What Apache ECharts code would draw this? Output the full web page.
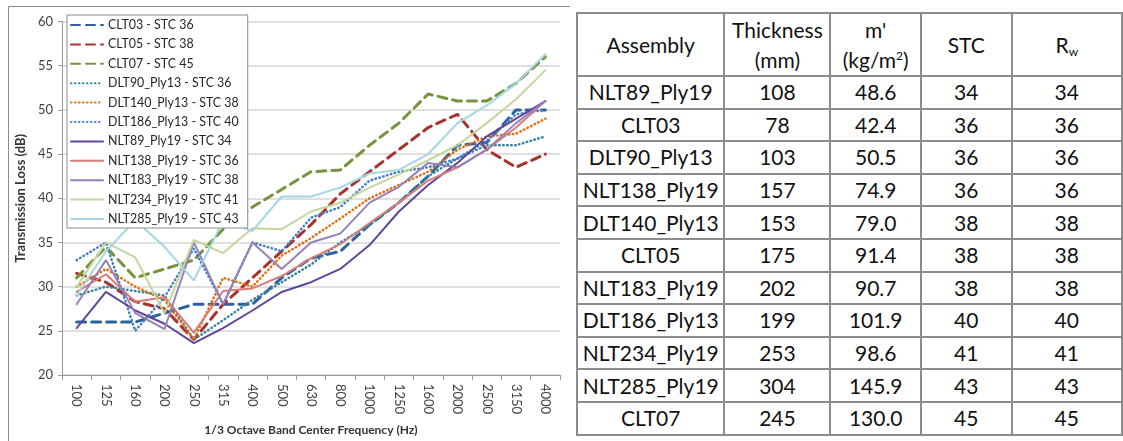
<!DOCTYPE html>
<html>
<head>
<meta charset="utf-8">
<script src="https://cdn.jsdelivr.net/npm/echarts@6/dist/echarts.min.js"></script>
<style>
  html, body { margin: 0; padding: 0; background: #fff; }
  #page { position: relative; width: 1123px; height: 441px; overflow: hidden; }
  #echart-line { position: absolute; left: 0; top: 0; width: 570px; height: 441px; }
  #tbl { position: absolute; left: 576px; top: 12px; border-collapse: collapse;
         font-family: Lato, "Open Sans", sans-serif; color: #111; }
  #tbl td { border: 2px solid #8c8c8c; text-align: center; padding: 0; font-size: 21px; height: 30.6px; line-height: 22px; }
  #tbl tr.head td { height: 61px; line-height: 30px; }
  #tbl sup { font-size: 12px; vertical-align: 8px; line-height: 0; }
  #tbl sub { font-size: 12px; vertical-align: -3px; line-height: 0; }
</style>
</head>
<body>
<div id="page">
  <div id="echart-line"></div>
  <table id="tbl"></table>
</div>
<script>
// 1/3 倍频程中心频率
const freqs = ['100', '125', '160', '200', '250', '315', '400', '500', '630', '800', '1000', '1250', '1600', '2000', '2500', '3150', '4000']
const yTicks = [20, 25, 30, 35, 40, 45, 50, 55, 60]

const clt03 = [26, 26, 26, 27, 28, 28, 28, 31, 33.2, 34, 37, 39.5, 42.5, 46, 46.3, 50, 50]
const clt05 = [31.5, 30.5, 28.3, 27.5, 24, 28, 31, 34, 37, 40.5, 43, 45.5, 48, 49.5, 45.5, 43.5, 45]
const clt07 = [31, 34.5, 31, 32, 33, 36.5, 39, 41, 43, 43.2, 46, 48.5, 51.8, 51, 51, 53, 56]
const dlt90 = [29, 30, 29.5, 29, 24, 26.2, 28.5, 30.5, 32.5, 35, 37, 39.5, 42.5, 44.5, 46, 46, 47]
const dlt140 = [30, 32, 30, 28.5, 24, 31, 30, 33.5, 35.5, 37.7, 40, 41.5, 43, 45.5, 47, 47.3, 49]
const dlt186 = [33, 35, 25, 28.8, 34.3, 28, 35, 34, 37.8, 39, 42, 43, 43.5, 44.5, 46.5, 49.5, 50]
const nlt89 = [25.3, 29.4, 27.3, 25.8, 23.6, 25.3, 27.3, 29.4, 30.5, 32, 34.7, 38.5, 41.5, 44, 47, 49, 51]
const nlt138 = [29.4, 31.4, 28.3, 28.8, 24.8, 29.5, 29.8, 31.2, 33.2, 34.8, 37.2, 39.5, 42, 43.5, 45.5, 48, 51]
const nlt183 = [28, 33, 27, 25.2, 35, 28, 35, 32, 35, 36, 39.5, 41.3, 44, 43.5, 45.5, 48.5, 51]
const nlt234 = [30, 35, 33.3, 27, 35.3, 33.8, 36.6, 36.5, 38.5, 39.5, 41.2, 42.7, 44.3, 46, 48.5, 51.2, 54.5]
const nlt285 = [29, 34, 37.5, 34.5, 30.7, 37.5, 36.3, 40.2, 40.2, 41.2, 42.8, 43.2, 45, 48.5, 50.5, 53, 56.3]

const seriesNames = ['CLT03 - STC 36', 'CLT05 - STC 38', 'CLT07 - STC 45', 'DLT90_Ply13 - STC 36', 'DLT140_Ply13 - STC 38',
  'DLT186_Ply13 - STC 40', 'NLT89_Ply19 - STC 34', 'NLT138_Ply19 - STC 36', 'NLT183_Ply19 - STC 38',
  'NLT234_Ply19 - STC 41', 'NLT285_Ply19 - STC 43']
const seriesData = [clt03, clt05, clt07, dlt90, dlt140, dlt186, nlt89, nlt138, nlt183, nlt234, nlt285]

// 表格数据
const assemblies = ['NLT89_Ply19', 'CLT03', 'DLT90_Ply13', 'NLT138_Ply19', 'DLT140_Ply13', 'CLT05', 'NLT183_Ply19', 'DLT186_Ply13', 'NLT234_Ply19', 'NLT285_Ply19', 'CLT07']
const thickness = [108, 78, 103, 157, 153, 175, 202, 199, 253, 304, 245]
const massPerArea = ['48.6', '42.4', '50.5', '74.9', '79.0', '91.4', '90.7', '101.9', '98.6', '145.9', '130.0']
const stcValues = [34, 36, 36, 36, 38, 38, 38, 40, 41, 43, 45]
const rwValues = [34, 36, 36, 36, 38, 38, 38, 40, 41, 43, 45]

const colors = ['#2d62a0', '#a8322d', '#77933c', '#31859c', '#e46c0a', '#3f7fc8', '#62469a', '#db7a76', '#9680b8', '#c3d69b', '#a5d5e5']
const dashed = [9, 6]
const dotted = [0.5, 3.5]
const styles = [
  { width: 3, type: dashed }, { width: 3, type: dashed }, { width: 3, type: dashed },
  { width: 2.5, type: dotted }, { width: 2.5, type: dotted }, { width: 2.5, type: dotted },
  { width: 2, type: 'solid' }, { width: 2, type: 'solid' }, { width: 2, type: 'solid' },
  { width: 2, type: 'solid' }, { width: 2, type: 'solid' }
]

const getchart = echarts.init(document.getElementById('echart-line'))
const option = {
  animation: false,
  textStyle: { fontFamily: 'Lato, sans-serif' },
  graphic: [{
    type: 'rect', shape: { x: 8.5, y: 6.5, width: 600, height: 500 },
    style: { fill: 'none', stroke: '#8c8c8c', lineWidth: 1 }, silent: true
  }],
  legend: {
    data: seriesNames,
    orient: 'vertical',
    left: 67,
    top: 15,
    itemWidth: 32,
    itemHeight: 10,
    itemGap: 7.4,
    padding: [4, 9, 3, 3],
    backgroundColor: '#fff',
    borderColor: '#8c8c8c',
    borderWidth: 1,
    itemStyle: { opacity: 0 },
    textStyle: { fontSize: 12.4, color: '#262626', fontFamily: 'Lato, sans-serif' }
  },
  grid: { left: 62, top: 21.5, width: 498, height: 361.5, containLabel: false },
  xAxis: {
    type: 'category',
    data: freqs,
    boundaryGap: true,
    name: '1/3 Octave Band Center Frequency (Hz)',
    nameLocation: 'middle',
    nameGap: 49,
    nameTextStyle: { fontSize: 12, fontWeight: 'bold', color: '#333' },
    axisLine: { lineStyle: { color: '#9a9a9a', width: 1 } },
    axisTick: { show: true, length: 5, lineStyle: { color: '#9a9a9a' } },
    axisLabel: { rotate: -90, interval: 0, fontSize: 13, color: '#404040', margin: 9 }
  },
  yAxis: {
    type: 'value',
    min: yTicks[0],
    max: yTicks[yTicks.length - 1],
    interval: 5,
    name: 'Transmission Loss (dB)',
    nameLocation: 'middle',
    nameRotate: 90,
    nameGap: 34,
    nameTextStyle: { fontSize: 13, fontWeight: 'bold', color: '#333' },
    axisLine: { show: true, lineStyle: { color: '#9a9a9a', width: 1 } },
    axisTick: { show: true, length: 4, lineStyle: { color: '#9a9a9a' } },
    axisLabel: { fontSize: 13, color: '#404040', margin: 9 },
    splitLine: { lineStyle: { color: '#d4d4d4', width: 1.5 } }
  },
  series: []
}
for (let index = 0; index < seriesData.length; index++) {
  option.series.push({
    name: seriesNames[index],
    type: 'line',
    symbol: 'none',
    data: seriesData[index],
    itemStyle: { color: colors[index] },
    lineStyle: { color: colors[index], width: styles[index].width, type: styles[index].type, cap: 'round' }
  })
}
getchart.setOption(option)

// 右侧表格
const tbl = document.getElementById('tbl')
const colWidths = [146, 105, 90, 92, 114]
let html = '<tr class="head">'
const heads = ['Assembly', 'Thickness<br>(mm)', "m'<br>(kg/m<sup>2</sup>)", 'STC', 'R<sub>w</sub>']
heads.forEach((h, i) => { html += '<td style="width:' + colWidths[i] + 'px">' + h + '</td>' })
html += '</tr>'
for (let i = 0; i < assemblies.length; i++) {
  html += '<tr><td>' + assemblies[i] + '</td><td>' + thickness[i] + '</td><td>' + massPerArea[i] +
    '</td><td>' + stcValues[i] + '</td><td>' + rwValues[i] + '</td></tr>'
}
tbl.innerHTML = html
</script>
</body>
</html>
